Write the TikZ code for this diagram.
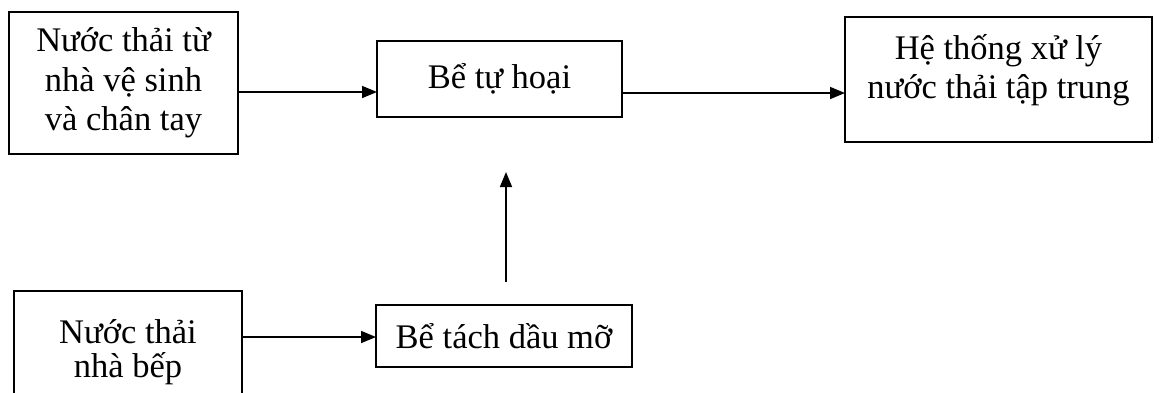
\documentclass[tikz,border=0pt]{standalone}
\usepackage{fontspec}
\setmainfont{Liberation Serif}
\usetikzlibrary{arrows.meta}
\begin{document}
\begin{tikzpicture}[x=1pt,y=-1pt,
  box/.style={draw, line width=1.6pt, inner sep=0pt, outer sep=0pt, align=center,
    font=\fontsize{34.5}{39.5}\selectfont},
  txt/.style={inner sep=0pt, align=center, font=\fontsize{34.5}{39.5}\selectfont},
  arr/.style={line width=1.6pt, -{Triangle[length=15pt,width=12pt]}}]
\useasboundingbox[fill=white] (0,0) rectangle (1159,392);
\node[box, minimum width=229pt, minimum height=142pt] (b1) at (123.5,83) {Nước thải từ\\nhà vệ sinh\\và chân tay};
\node[box, minimum width=245pt, minimum height=76pt] (b2) at (499.5,79) {Bể tự hoại};
\node[box, minimum width=307pt, minimum height=125pt] (b3) at (998.5,79.5) {};
\node[txt] (t3) at (998.5,70) {Hệ thống xử lý\\nước thải tập trung};
\node[box, minimum width=228pt, minimum height=119pt] (b4) at (128,350.5) {};
\node[txt] (t4) at (128,352) {Nước thải\\[-6pt]nhà bếp};
\node[box, minimum width=256pt, minimum height=62pt] (b5) at (504,336) {Bể tách dầu mỡ};
\coordinate (y1) at (0,92);
\coordinate (y2) at (0,93);
\coordinate (y3) at (0,337);
\coordinate (v1) at (506,282);
\coordinate (v2) at (506,172);
\draw[arr] (b1.east |- y1) -- (b2.west |- y1);
\draw[arr] (b2.east |- y2) -- (b3.west |- y2);
\draw[arr] (b4.east |- y3) -- (b5.west |- y3);
\draw[arr] (v1) -- (v2);
\end{tikzpicture}
\end{document}
